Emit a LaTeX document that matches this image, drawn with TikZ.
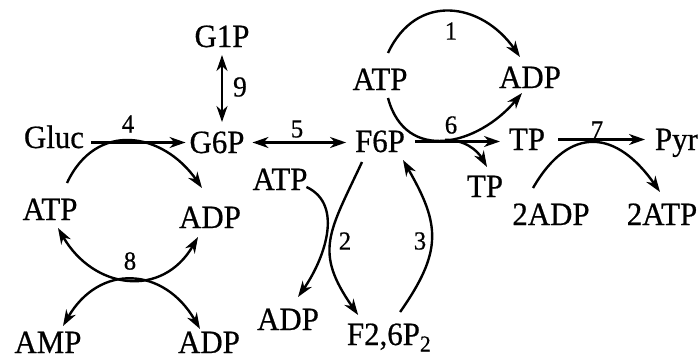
\documentclass[tikz,border=0pt]{standalone}
\usepackage{fontspec}
\setmainfont{Liberation Serif}[FakeBold=0.6,FakeStretch=0.95]
\usetikzlibrary{arrows.meta,calc}
\tikzset{
  node-met/.style={font=\fontsize{32.5}{38}\selectfont,inner sep=0pt,outer sep=4pt,
    text height=21pt,text depth=0pt,anchor=base},
  node-lbl/.style={font=\fontsize{26}{30}\selectfont,inner sep=0pt},
  arrow/.style={-{Stealth[length=16pt,width=11pt,inset=5pt]},line width=2.4pt},
  arrow-both/.style={{Stealth[length=16pt,width=11pt,inset=5pt]}-{Stealth[length=16pt,width=11pt,inset=5pt]},
    line width=2.4pt},
}

\begin{document}
\begin{tikzpicture}[x=1pt,y=1pt]
  \useasboundingbox (0,0) rectangle (700,360);
  % main chain
  \node[node-met] (g1p)  at (222,313) {G1P};
  \node[node-met] (gluc) at (54,212)  {Gluc};
  \node[node-met] (g6p)  at (217,207) {G6P};
  \node[node-met] (f6p)  at (380,208) {F6P};
  \node[node-met] (tp)   at (527,210) {TP};
  \node[node-met,anchor=base west] (pyr) at (651,210) {Pyr};
  % cofactors
  \node[node-met] (atp1) at (380,270) {ATP};
  \node[node-met] (adp1) at (530,272) {ADP};
  \node[node-met] (tp2)  at (485,163) {TP};
  \node[node-met] (adp7) at (551,135) {2ADP};
  \node[node-met] (atp7) at (662,135) {2ATP};
  \node[node-met] (atp4) at (50,140)  {ATP};
  \node[node-met] (adp4) at (210,132) {ADP};
  \node[node-met] (amp)  at (48,7)    {AMP};
  \node[node-met] (adp8) at (209,7)   {ADP};
  \node[node-met] (atp2) at (280,170) {ATP};
  \node[node-met] (adp2) at (288,30)  {ADP};
  \node[node-met,anchor=base west] (f26) at (343,15) {F2,6P\textsubscript{2}};
  % enzyme numbers
  \node[node-lbl] (n1) at (451,329) {1};
  \node[node-lbl] (n2) at (345,119) {2};
  \node[node-lbl] (n3) at (420,119) {3};
  \node[node-lbl] (n4) at (128,236) {4};
  \node[node-lbl] (n5) at (297,231) {5};
  \node[node-lbl] (n6) at (451,235) {6};
  \node[node-lbl] (n7) at (597,230) {7};
  \node[node-lbl] (n8) at (130,99)  {8};
  \node[node-lbl,font=\fontsize{29}{34}\selectfont] (n9) at (240,273) {9};
  % straight steps
  \draw[arrow,shorten <=3pt] (gluc.east |- g6p.west) -- (g6p.west);
  \draw[arrow-both,shorten <=4pt,shorten >=5pt] (g6p.east) -- (g6p.east -| f6p.west);
  \draw[arrow-both,shorten <=4pt,shorten >=6pt] (g1p.south) -- (g1p.south |- g6p.north);
  \draw[arrow,shorten <=6pt,shorten >=5pt] (f6p.east) -- (f6p.east -| tp.west);
  \draw[arrow,shorten <=9pt,shorten >=6pt] (tp.east) -- (tp.east -| pyr.west);
  % coupled arcs
  \draw[arrow] ([xshift=8pt,yshift=12pt]atp1.north) to[out=65,in=125,looseness=1.3]
    ([xshift=-10pt,yshift=6pt]adp1.north);
  \draw[arrow] ([xshift=8pt,yshift=-4pt]atp1.south) to[out=-75,in=-130,looseness=1.3]
    coordinate[pos=0.5] (c6) ([xshift=-8pt,yshift=-1pt]adp1.south);
  \draw[arrow] (c6) to[out=0,in=120] ([xshift=2pt,yshift=5pt]tp2.north);
  \draw[arrow] ([xshift=17pt,yshift=12pt]atp4.north) to[out=65,in=125,looseness=1.3]
    ([xshift=-8pt,yshift=15pt]adp4.north);
  \draw[arrow-both] ([xshift=8pt,yshift=-4pt]atp4.south) to[out=-60,in=-120,looseness=1.3]
    ([xshift=-12pt,yshift=-5pt]adp4.south);
  \draw[arrow-both] ([xshift=15pt,yshift=2pt]amp.north) to[out=60,in=120,looseness=1.35]
    ([xshift=-9pt,yshift=-1pt]adp8.north);
  \draw[arrow] ([xshift=-5pt,yshift=3pt]atp2.base east) to[out=-25,in=55]
    ([xshift=10pt,yshift=8pt]adp2.north);
  \draw[arrow] ([xshift=-18pt,yshift=-6pt]f6p.south) to[out=-115,in=125,looseness=1.3]
    ([xshift=-31pt,yshift=5pt]f26.north);
  \draw[arrow] ([xshift=11pt,yshift=8pt]f26.north) to[out=55,in=-60,looseness=1.25]
    ([xshift=23pt,yshift=-4pt]f6p.south);
  \draw[arrow] ([xshift=-18pt,yshift=12pt]adp7.north) to[out=60,in=125,looseness=1.5]
    ([xshift=-2pt,yshift=8pt]atp7.north);
\end{tikzpicture}
\end{document}
